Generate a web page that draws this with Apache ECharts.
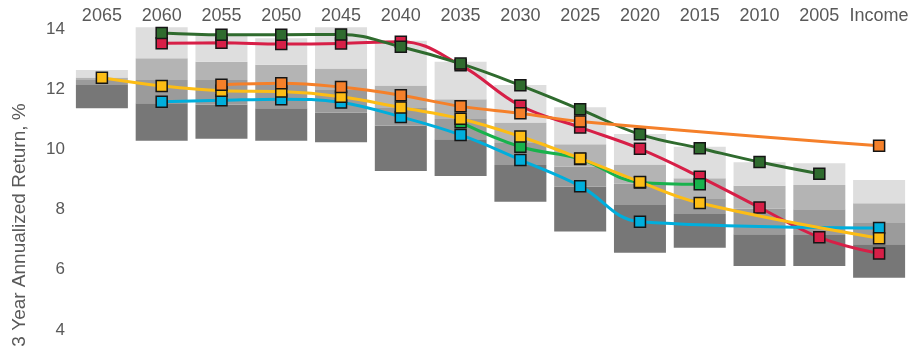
<!DOCTYPE html>
<html>
<head>
<meta charset="utf-8">
<title>3 Year Annualized Return by Vintage</title>
<script src="https://cdn.jsdelivr.net/npm/echarts@6/dist/echarts.min.js"></script>
<style>
  html, body { margin: 0; padding: 0; background: #ffffff; }
  #chart { width: 914px; height: 360px; }
</style>
</head>
<body>
<div id="chart"></div>
<script>
// Target-date vintages, left to right
const categories = ['2065', '2060', '2055', '2050', '2045', '2040', '2035', '2030', '2025', '2020', '2015', '2010', '2005', 'Income'];

// Peer-group distribution per vintage (%): band edges from top to bottom
const pctTop    = [12.64, 14.06, 13.80, 13.69, 14.06, 13.61, 12.91, 12.14, 11.40, 10.51, 10.09, 9.57, 9.54, 8.98];
const pctUpper  = [12.39, 13.03, 12.91, 12.81, 12.69, 12.12, 11.67, 10.89, 10.17, 9.50, 9.04, 8.79, 8.82, 8.21];
const pctMedian = [12.31, 12.31, 12.31, 12.14, 11.97, 11.40, 11.01, 10.21, 9.43, 8.87, 8.38, 8.04, 8.01, 7.58];
const pctLower  = [12.14, 11.53, 11.48, 11.37, 11.23, 10.79, 10.34, 9.48, 8.76, 8.15, 7.85, 7.18, 7.16, 6.85];
const pctBottom = [11.37, 10.29, 10.35, 10.29, 10.24, 9.28, 9.12, 8.26, 7.27, 6.57, 6.73, 6.13, 6.13, 5.74];

// Fund series (%), null where a vintage is not offered
const darkGreenSeries = [null, 13.87, 13.81, 13.81, 13.82, 13.41, 12.85, 12.13, 11.33, 10.50, 10.04, 9.58, 9.19, null];
const redSeries       = [null, 13.53, 13.54, 13.50, 13.52, 13.58, 12.80, 11.45, 10.73, 10.02, 9.09, 8.07, 7.08, 6.54];
const orangeSeries    = [null, null, 12.15, 12.20, 12.07, 11.80, 11.43, 11.20, 10.93, null, null, null, null, 10.12];
const yellowSeries    = [12.38, 12.11, 11.95, 11.92, 11.75, 11.39, 11.02, 10.43, 9.70, 8.92, 8.22, null, null, 7.05];
const cyanSeries      = [null, 11.58, 11.63, 11.67, 11.56, 11.08, 10.48, 9.65, 8.78, 7.60, null, null, null, 7.39];
const greenSeries     = [null, null, null, null, null, null, 10.90, 10.09, 9.68, 8.90, 8.84, null, null, null];

// Y axis ticks
const yMin = 4, yMax = 14.1, yStep = 2;

const diff = (a, b) => a.map((v, i) => +(v - b[i]).toFixed(3));

const bandColors = ['#777777', '#9b9b9b', '#b4b4b4', '#dedede'];
const bandSeries = [
  { name: 'base', data: pctBottom, color: 'transparent' },
  { name: 'p5-p25', data: diff(pctLower, pctBottom), color: bandColors[0] },
  { name: 'p25-p50', data: diff(pctMedian, pctLower), color: bandColors[1] },
  { name: 'p50-p75', data: diff(pctUpper, pctMedian), color: bandColors[2] },
  { name: 'p75-p95', data: diff(pctTop, pctUpper), color: bandColors[3] }
].map(s => ({
  name: s.name,
  type: 'bar',
  stack: 'dist',
  barWidth: 52,
  silent: true,
  itemStyle: { color: s.color },
  data: s.data,
  z: 1
}));

function fundLine(name, data, color, z) {
  return {
    name: name,
    type: 'line',
    data: data,
    smooth: 0.4,
    connectNulls: true,
    symbol: 'rect',
    symbolSize: 11,
    showSymbol: true,
    lineStyle: { color: color, width: 3 },
    itemStyle: { color: color, borderColor: '#151515', borderWidth: 1.5 },
    z: z
  };
}

const chart = echarts.init(document.getElementById('chart'), null, { renderer: 'canvas' });
chart.setOption({
  animation: false,
  backgroundColor: '#ffffff',
  grid: { left: 72, right: 5, top: 26, bottom: 30 },
  xAxis: {
    type: 'category',
    position: 'top',
    data: categories,
    axisLine: { show: false },
    axisTick: { show: false },
    axisLabel: {
      margin: 1,
      color: '#595959',
      fontSize: 18,
      fontFamily: 'Liberation Sans, Arial, sans-serif',
      interval: 0
    },
    splitLine: { show: false }
  },
  yAxis: {
    type: 'value',
    min: yMin,
    max: yMax,
    interval: yStep,
    axisLine: { show: false },
    axisTick: { show: false },
    splitLine: { show: false },
    axisLabel: {
      margin: 7,
      color: '#595959',
      fontSize: 17,
      fontFamily: 'Liberation Sans, Arial, sans-serif',
      showMaxLabel: false
    }
  },
  graphic: [{
    type: 'text',
    x: 20,
    y: 225,
    rotation: Math.PI / 2,
    style: {
      text: '3 Year Annualized Return, %',
      fill: '#595959',
      font: '19px "Liberation Sans", Arial, sans-serif',
      textAlign: 'center',
      textVerticalAlign: 'middle'
    }
  }],
  series: bandSeries.concat([
    fundLine('Red', redSeries, '#d71f47', 3),
    fundLine('Dark Green', darkGreenSeries, '#2f6b2e', 4),
    fundLine('Green', greenSeries, '#18b24c', 5),
    fundLine('Cyan', cyanSeries, '#00aedc', 6),
    fundLine('Yellow', yellowSeries, '#fdbd15', 7),
    fundLine('Orange', orangeSeries, '#f5802a', 8)
  ])
});
</script>
</body>
</html>
